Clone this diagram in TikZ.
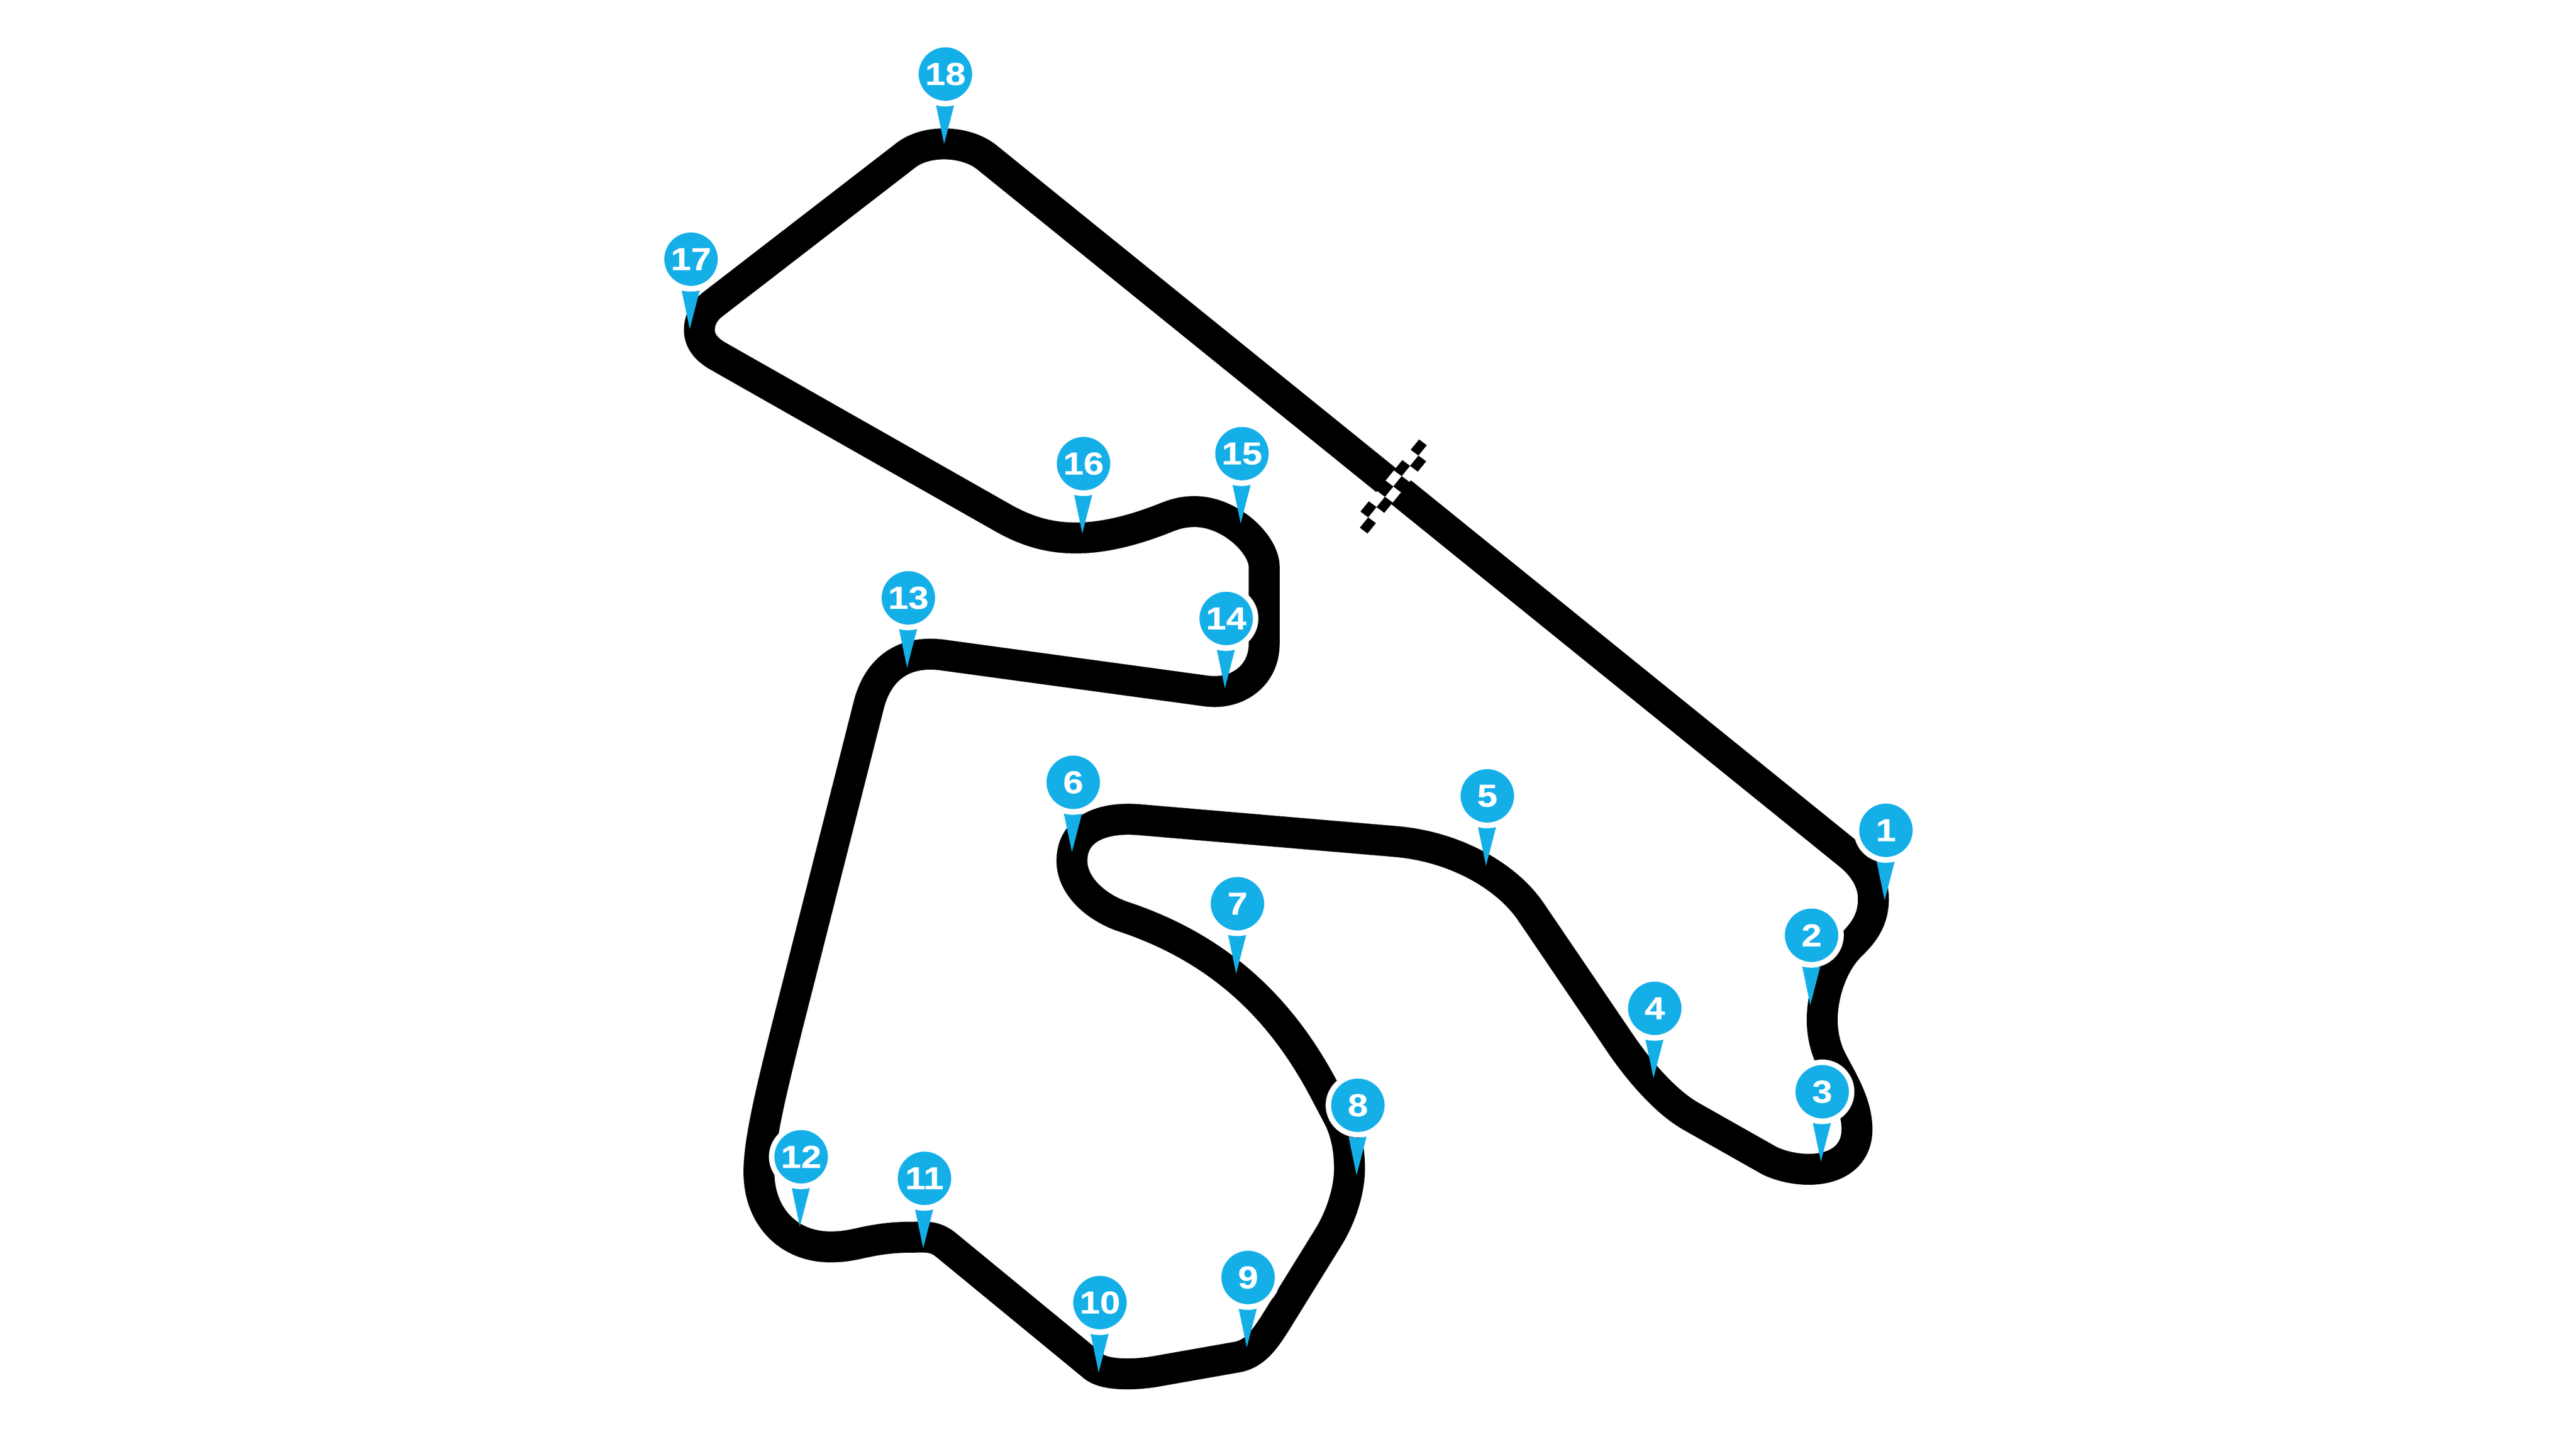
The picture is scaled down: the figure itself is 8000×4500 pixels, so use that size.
\documentclass[tikz,border=0pt]{standalone}
\usepackage{fontspec}
\usepackage{xcolor}
\newfontfamily\pinfont[FakeStretch=1.15,FakeBold=0.5]{Liberation Sans}
\definecolor{pinblue}{HTML}{15AFE8}
\usepackage{tikz}
\tikzset{
  track/.style={draw=black, line width=0.192cm, line join=round},
  turn/.style={circle, fill=pinblue, draw=white, line width=0.034cm, minimum size=0.366cm,
    inner sep=0pt, text=white, font=\pinfont\bfseries\fontsize{5.6}{6}\selectfont},
  tip/.style={fill=pinblue}
}
\begin{document}
\begin{tikzpicture}[x=0.002cm, y=-0.002cm]

  \useasboundingbox (0,0) rectangle (8000,4500);

  % Track
  \draw[track] (3064,488) -- (5740,2652)
    .. controls (5790,2692) and (5818,2740) .. (5818,2792)
    .. controls (5818,2850) and (5795,2890) .. (5751,2933)
    .. controls (5690,2990) and (5659,3090) .. (5659,3167)
    .. controls (5659,3210) and (5668,3250) .. (5683,3283)
    .. controls (5710,3340) and (5767,3420) .. (5767,3508)
    .. controls (5767,3585) and (5710,3632) .. (5617,3632)
    .. controls (5575,3632) and (5530,3622) .. (5495,3605)
    -- (5251,3467)
    .. controls (5170,3421) and (5085,3320) .. (5028,3235)
    -- (4755,2833)
    .. controls (4680,2722) and (4520,2630) .. (4336,2614)
    -- (3537,2546)
    .. controls (3430,2537) and (3329,2570) .. (3329,2674)
    .. controls (3329,2750) and (3400,2815) .. (3482,2845)
    .. controls (3795,2947) and (3982,3141) .. (4109,3379)
    -- (4157,3470)
    .. controls (4180,3515) and (4191,3570) .. (4191,3630)
    .. controls (4191,3700) and (4163,3782) .. (4126,3842)
    -- (3960,4110)
    .. controls (3925,4165) and (3895,4205) .. (3843,4215)
    -- (3588,4260)
    .. controls (3530,4270) and (3430,4275) .. (3394,4242)
    -- (2938,3867)
    .. controls (2900,3836) and (2870,3843) .. (2824,3843)
    .. controls (2770,3843) and (2720,3850) .. (2660,3864)
    .. controls (2630,3870) and (2610,3873) .. (2579,3873)
    .. controls (2450,3873) and (2357,3780) .. (2357,3640)
    .. controls (2357,3540) and (2400,3370) .. (2442,3200)
    -- (2698,2190)
    .. controls (2722,2095) and (2790,2015) .. (2931,2035)
    -- (3744,2146)
    .. controls (3840,2160) and (3926,2100) .. (3926,2000)
    -- (3926,1761)
    .. controls (3926,1690) and (3820,1589) .. (3710,1589)
    .. controls (3675,1589) and (3650,1596) .. (3620,1608)
    .. controls (3560,1632) and (3450,1671) .. (3342,1671)
    .. controls (3250,1671) and (3180,1646) .. (3110,1606)
    -- (2233,1108)
    .. controls (2195,1087) and (2172,1060) .. (2172,1025)
    .. controls (2172,990) and (2190,965) .. (2210,948)
    -- (2815,481)
    .. controls (2880,432) and (3000,437) .. (3064,488)
    -- cycle;

  % Start line
  \foreach \i/\j/\col in {1/2/white, 0/3/white, 1/4/white, 0/5/white,
                          0/0/black, 1/1/black, 0/2/black, 1/3/black,
                          0/4/black, 1/5/black, 0/6/black, 1/7/black}
    \fill[\col] ({4407+\i*24-\j*26},{1365+\i*18+\j*32}) -- ++(24,18) -- ++(-26,32) -- ++(-24,-18) -- cycle;

  % Turns
  \node[turn] (t1) at (5857,2579) {1};
  \node[turn] (t2) at (5626,2905) {2};
  \node[turn] (t3) at (5659,3391) {3};
  \node[turn] (t4) at (5139,3132) {4};
  \node[turn] (t5) at (4619,2472) {5};
  \node[turn] (t6) at (3333,2430) {6};
  \node[turn] (t7) at (3843,2807) {7};
  \node[turn] (t8) at (4217,3433) {8};
  \node[turn] (t9) at (3876,3968) {9};
  \node[turn] (t10) at (3416,4046) {10};
  \node[turn] (t11) at (2871,3660) {11};
  \node[turn] (t12) at (2488,3593) {12};
  \node[turn] (t13) at (2821,1857) {13};
  \node[turn] (t14) at (3808,1921) {14};
  \node[turn] (t15) at (3857,1409) {15};
  \node[turn] (t16) at (3365,1440) {16};
  \node[turn] (t17) at (2146,805) {17};
  \node[turn] (t18) at (2936,230) {18};

  \foreach \n in {1,...,18}
    \fill[tip] ([shift={(-29,97)}]t\n.center) -- ([shift={(-4,217)}]t\n.center)
      -- ([shift={(27,97)}]t\n.center)
      .. controls ([shift={(10,102)}]t\n.center) and ([shift={(-12,102)}]t\n.center) .. cycle;

\end{tikzpicture}
\end{document}
